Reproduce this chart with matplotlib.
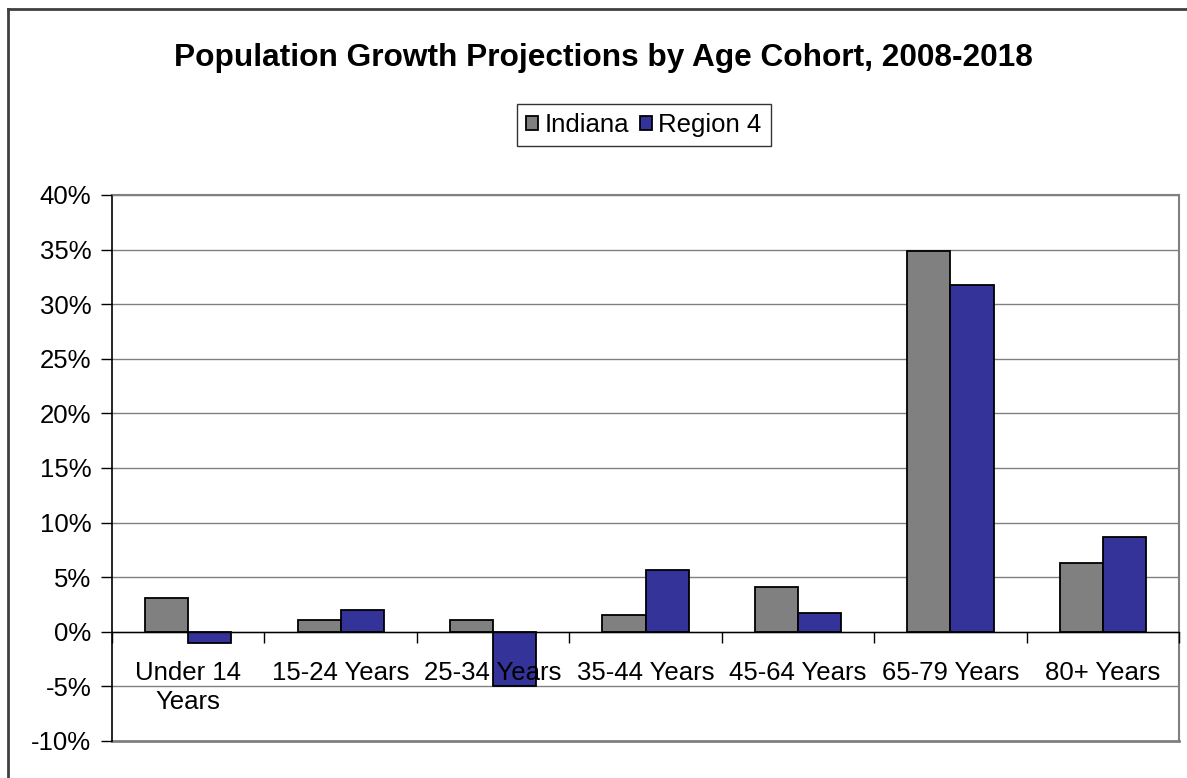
import numpy as np
import matplotlib
matplotlib.use("Agg")
import matplotlib.pyplot as plt
from matplotlib.ticker import FuncFormatter, MultipleLocator

plt.rcParams["font.family"] = ["Liberation Sans", "DejaVu Sans"]

# projected growth 2008-2018, percent
cohorts = ["Under 14\nYears", "15-24 Years", "25-34 Years", "35-44 Years",
           "45-64 Years", "65-79 Years", "80+ Years"]
indiana = [3.1, 1.1, 1.1, 1.5, 4.1, 34.9, 6.3]
region4 = [-1.0, 2.0, -5.0, 5.7, 1.7, 31.8, 8.7]

fig = plt.figure(figsize=(11.87, 7.78), dpi=100, facecolor="white")
ax = fig.add_axes([0.0944, 0.0476, 0.8989, 0.7018])

x = np.arange(len(cohorts))
w = 0.283
ax.bar(x - w / 2, indiana, w, color="#808080", edgecolor="black",
       linewidth=1.3, label="Indiana", zorder=2)
ax.bar(x + w / 2, region4, w, color="#333399", edgecolor="black",
       linewidth=1.3, label="Region 4", zorder=2)

ax.set_xlim(-0.5, len(cohorts) - 0.5)
ax.set_ylim(-10, 40)
ax.yaxis.set_major_locator(MultipleLocator(5))
ax.yaxis.set_major_formatter(FuncFormatter(lambda v, p: f"{v:.0f}%"))
# gridlines behind the bars, axis labels in front of them
for v in ax.get_yticks():
    ax.axhline(v, color="#808080", linewidth=1.0, zorder=0)
ax.set_axisbelow(False)

# category axis sits on the zero line
ax.spines["bottom"].set_position(("data", 0))
ax.spines["bottom"].set_color("black")
ax.spines["bottom"].set_linewidth(1.0)
ax.spines["left"].set_color("black")
ax.spines["left"].set_linewidth(1.2)
for s in ("top", "right"):
    ax.spines[s].set_color("#808080")
    ax.spines[s].set_linewidth(1.5)
ax.axhline(-10, color="#808080", linewidth=2.0, zorder=1, clip_on=False)

ax.set_xticks(x)
ax.set_xticklabels(cohorts, fontsize=18.5, linespacing=1.25)
ax.set_xticks(np.arange(len(cohorts) + 1) - 0.5, minor=True)
ax.tick_params(axis="x", which="major", length=0, pad=21)
ax.tick_params(axis="x", which="minor", length=8, width=1, direction="out", color="black")
ax.tick_params(axis="y", labelsize=18.5, length=8, width=1, pad=7, color="black")

fig.text(0.508, 0.926, "Population Growth Projections by Age Cohort, 2008-2018",
         ha="center", va="center", fontsize=22.8, fontweight="bold")

leg = fig.legend(loc="center", bbox_to_anchor=(0.5426, 0.839), ncol=2,
                 fontsize=18.5, frameon=True, fancybox=False, edgecolor="black",
                 handlelength=0.45, handleheight=0.5, handletextpad=0.25,
                 columnspacing=0.45, borderpad=0.35)
leg.get_frame().set_linewidth(1.0)

# chart area frame
fig.add_artist(plt.Line2D([8 / 1187, 1.0], [1 - 9 / 778] * 2, transform=fig.transFigure,
                          color="#404040", linewidth=2))
fig.add_artist(plt.Line2D([8 / 1187] * 2, [0.0, 1 - 9 / 778], transform=fig.transFigure,
                          color="#404040", linewidth=2))

fig.savefig("out.png", dpi=100, facecolor="white")
